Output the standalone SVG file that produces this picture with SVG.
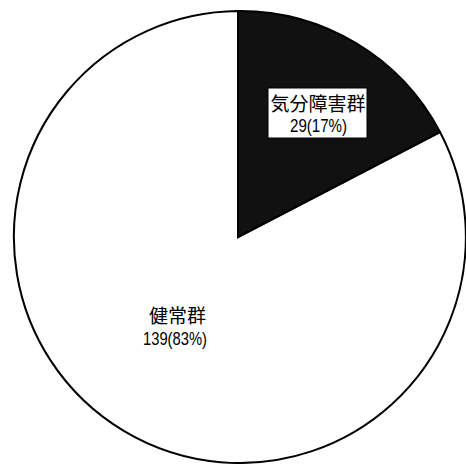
<svg xmlns="http://www.w3.org/2000/svg" width="466" height="464" viewBox="0 0 466 464">
<style>
.lbl{font-family:"Noto Sans CJK JP","Noto Sans",sans-serif;font-size:19px;fill:#000;text-anchor:middle}
.num{font-family:"Liberation Sans",sans-serif;font-size:19px;fill:#000;text-anchor:middle}
</style>
<rect width="466" height="464" fill="#fff"/>
<g id="healthy">
<path d="M238,237 L440,132 A226,226 0 1 1 238,11 Z" fill="#fff" stroke="#000" stroke-width="2"/>
<text class="lbl" x="177.5" y="323">健常群</text>
<text class="num" x="175" y="345" textLength="64" lengthAdjust="spacingAndGlyphs">139(83%)</text>
</g>
<g id="mood">
<path d="M238,237 L238,11 A226,226 0 0 1 440,132 Z" fill="#111" stroke="#000" stroke-width="2"/>
<rect x="268" y="88" width="99" height="50" fill="#fff" stroke="#000" stroke-width="1"/>
<text class="lbl" x="318" y="111">気分障害群</text>
<text class="num" x="318.5" y="132" textLength="57" lengthAdjust="spacingAndGlyphs">29(17%)</text>
</g>
<g id="connectors"></g>
</svg>
